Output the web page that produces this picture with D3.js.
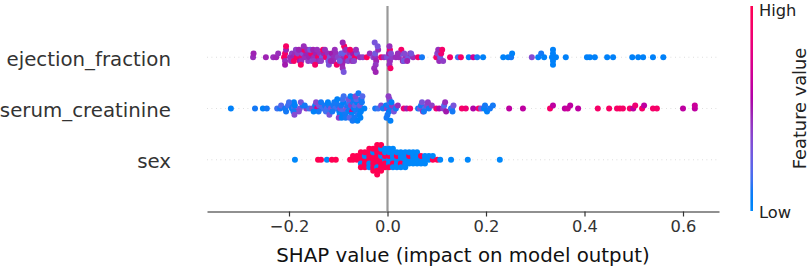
<!DOCTYPE html>
<html><head><meta charset="utf-8">
<script src="https://cdn.jsdelivr.net/npm/d3@7"></script>
<style>
body{margin:0;background:#fff}
svg{display:block}
text{font-family:"DejaVu Sans",sans-serif}
</style>
</head><body>
<svg id="chart" width="810" height="266"></svg>
<script>
// ---------- DATA ----------
const features = ["sex", "serum_creatinine", "ejection_fraction"]; // bottom -> top
const xTicks = [-0.2, 0.0, 0.2, 0.4, 0.6];
const xLabel = "SHAP value (impact on model output)";
const colorLabel = "Feature value";
const colorTickLabels = ["Low", "High"];

// ejection_fraction: SHAP values and normalized feature values (0 = low, 1 = high)
const efShap = [
 -0.273,-0.272,-0.247,-0.232,-0.226,-0.222,-0.210,-0.208,-0.208,-0.206,
 -0.208,-0.206,-0.198,-0.194,-0.192,-0.188,-0.184,-0.182,-0.178,-0.174,
 -0.172,-0.168,-0.165,-0.161,-0.159,-0.155,-0.153,-0.149,-0.145,-0.141,
 -0.137,-0.133,-0.129,-0.125,-0.121,-0.117,-0.113,-0.109,-0.105,-0.101,
 -0.094,-0.090,-0.090,-0.089,-0.086,-0.082,-0.078,-0.074,-0.070,-0.066,
 -0.062,-0.056,-0.050,-0.042,-0.036,-0.029,-0.025,-0.025,-0.023,-0.019,
 -0.013,-0.007,-0.001,0.003,0.005,0.005,0.009,0.017,0.023,0.027,
 0.031,0.036,0.042,0.046,0.052,0.062,0.070,0.099,0.101,0.105,
 0.107,0.109,0.113,0.127,0.143,0.149,0.165,0.174,0.182,0.194,
 0.235,0.245,0.251,0.253,0.293,0.306,0.312,0.318,0.334,0.336,
 0.336,0.336,0.336,0.342,0.362,0.405,0.411,0.421,0.446,0.458,
 0.497,0.509,0.519,0.539,0.560,
 -0.175,-0.170,-0.150,-0.140,-0.120,-0.110,-0.092,-0.088,-0.080,-0.072,
 -0.024,-0.020,0.004,0.028,0.034,
 -0.196,-0.190,-0.186,-0.180,-0.176,-0.170,-0.163,-0.157,-0.151,-0.147,
 -0.143,-0.135,-0.131,-0.127,-0.119,-0.115,-0.107,-0.103,-0.097,-0.091,
 -0.091,-0.089,-0.084,-0.076,-0.068,-0.064,-0.027,-0.026,-0.024,0.004,
 0.006,0.007,0.021,0.033,0.040,0.048,0.103,0.111];
const efValue = [
 .45,.48,.48,.45,.48,.45,.95,.90,.45,.48,
 .50,.92,.45,.40,.48,.45,.95,.40,.50,.88,
 .32,.45,.48,.40,.48,.90,.38,.45,.48,.92,
 .45,.28,.48,.88,.45,.32,.50,.45,.45,.38,
 .28,.45,.25,.48,.40,.90,.45,.32,.50,.92,
 .28,.45,.40,.95,.45,.38,.45,.28,.48,.45,
 .88,.45,.32,.48,.45,.88,.40,.45,.45,.28,
 .48,.45,.28,.45,.45,.90,.10,.90,.38,.45,
 .28,.85,.40,.90,.15,.90,.05,.65,.10,.05,
 .05,.05,.10,.05,.35,.05,.10,.05,.05,.05,
 .05,.05,.05,.05,.05,.05,.05,.05,.05,.05,
 .05,.05,.05,.05,.05,
 .45,.92,.40,.45,.30,.45,.48,.92,.35,.45,
 .42,.30,.45,.90,.35,
 .45,.92,.40,.48,.92,.45,.45,.30,.48,.90,
 .45,.40,.92,.45,.32,.48,.45,.90,.28,.45,
 .48,.30,.45,.92,.38,.45,.45,.30,.48,.45,
 .90,.35,.45,.28,.48,.30,.45,.90];

// serum_creatinine
const scShap = [
 -0.318,-0.269,-0.253,-0.245,-0.224,-0.218,-0.216,-0.208,-0.202,-0.194,
 -0.192,-0.190,-0.188,-0.188,-0.178,-0.172,-0.165,-0.159,-0.153,-0.147,
 -0.143,-0.139,-0.133,-0.127,-0.123,-0.119,-0.117,-0.115,-0.110,-0.106,
 -0.100,-0.098,-0.096,-0.094,-0.092,-0.090,-0.088,-0.084,-0.082,-0.080,
 -0.078,-0.076,-0.074,-0.072,-0.070,-0.068,-0.066,-0.064,-0.062,-0.060,
 -0.058,-0.056,-0.054,-0.052,-0.047,-0.025,-0.019,-0.013,-0.009,-0.003,
 -0.001,0.001,0.003,0.005,0.007,0.009,0.013,0.017,0.021,0.033,
 0.039,0.046,0.062,0.066,0.068,0.072,0.076,0.080,0.084,0.090,
 0.099,0.105,0.113,0.115,0.119,0.129,0.131,0.134,0.151,0.159,
 0.174,0.185,0.190,0.196,0.198,0.202,0.208,0.214,0.247,0.275,
 0.330,0.336,0.360,0.366,0.371,0.387,0.427,0.450,0.466,0.472,
 0.478,0.492,0.499,0.503,0.517,0.521,0.539,0.547,0.600,0.624,
 0.624,
 -0.104,-0.097,-0.091,-0.086,-0.079,-0.073,-0.069,-0.063,-0.057,-0.053,
 0.000,0.004,0.008,-0.180,-0.140,
 -0.191,-0.190,-0.189,-0.206,-0.200,-0.176,-0.168,-0.150,-0.145,-0.135,
 -0.125,-0.121,-0.118,-0.112,-0.108,-0.102,-0.099,-0.093,-0.089,-0.085,
 -0.077,-0.075,-0.071,-0.067,-0.065,-0.061,-0.059,-0.055,-0.051,-0.002,
 0.002,0.006,0.070,0.074,0.082,0.117,0.132];
const scValue = [
 .05,.10,.05,.10,.15,.10,.20,.10,.15,.05,
 .10,.15,.05,.40,.30,.10,.40,.15,.35,.10,
 .75,.30,.15,.10,.20,.10,.05,.30,.10,.15,
 .10,.05,.35,.10,.20,.05,.10,.30,.10,.05,
 .15,.10,.40,.75,.10,.05,.20,.10,.05,.15,
 .10,.30,.05,.10,.05,.10,.15,.35,.10,.05,
 .40,.10,.05,.15,.10,.40,.30,.10,.45,.85,
 .50,.90,.10,.30,.10,.45,.20,.35,.10,.40,
 .85,.55,.40,.20,.50,.10,.15,.30,.90,.85,
 .55,.90,.30,.05,.10,.05,.10,.10,.60,.60,
 .90,.60,.60,.65,.60,.60,.90,.92,.90,.95,
 .90,.90,.60,.85,.90,.60,.90,.90,.60,.60,
 .65,
 .10,.05,.15,.10,.30,.05,.10,.20,.05,.10,
 .10,.35,.05,.35,.10,
 .10,.05,.35,.10,.15,.30,.10,.05,.35,.10,
 .15,.05,.30,.10,.10,.05,.40,.05,.15,.10,
 .20,.05,.10,.10,.35,.05,.10,.05,.20,.10,
 .40,.05,.30,.10,.40,.45,.10];

// sex (0 = female / low, 1 = male / high)
const sexShap = [
 -0.188,
 -0.141,-0.135,-0.123,-0.113,-0.105,
 -0.076,
 -0.070,-0.070,
 -0.062,-0.062,
 -0.054,-0.054,-0.054,-0.054,-0.054,
 -0.046,-0.046,-0.046,-0.046,-0.046,
 -0.037,-0.037,-0.037,-0.037,-0.037,-0.037,
 -0.029,-0.029,-0.029,-0.029,-0.029,-0.029,-0.029,
 -0.021,-0.021,-0.021,-0.021,-0.021,-0.021,-0.021,-0.021,-0.021,
 -0.013,-0.013,-0.013,-0.013,-0.013,-0.013,-0.013,-0.013,
 -0.005,-0.005,-0.005,-0.005,-0.005,-0.005,
 0.003,0.003,0.003,0.003,0.003,0.003,
 0.011,0.011,0.011,0.011,0.011,0.011,
 0.019,0.019,0.019,0.019,0.019,
 0.027,0.027,0.027,0.027,0.027,
 0.036,0.036,0.036,0.036,0.036,
 0.044,0.044,0.044,0.044,
 0.052,0.052,0.052,0.052,
 0.060,0.060,0.060,0.060,
 0.068,0.068,0.068,
 0.076,0.076,0.076,
 0.084,0.084,
 0.092,0.092,
 0.101,
 0.107,0.129,0.163,0.228];
const sexValue = [
 0,
 1,1,0,1,1,
 1,
 1,1,
 1,1,
 1,1,0,1,1,
 1,0,1,1,1,
 1,1,0,1,0,1,
 1,1,1,0,1,1,1,
 1,1,1,1,0,1,1,1,1,
 1,0,1,1,1,0,1,1,
 0,1,1,0,1,0,
 0,1,0,0,1,0,
 0,0,1,0,0,0,
 0,1,0,0,0,
 0,0,1,0,0,
 0,0,0,0,0,
 0,1,0,0,
 0,0,0,0,
 0,0,0,0,
 0,1,0,
 0,0,0,
 0,0,
 1,0,
 1,
 0,0,0,0];

// ---------- CHART ----------
const rows = [
  {name: features[0], shap: sexShap, val: sexValue},
  {name: features[1], shap: scShap, val: scValue},
  {name: features[2], shap: efShap, val: efValue}
];

// SHAP red_blue colormap (LCH interpolation)
function redBlue(t) {
  t = Math.max(0, Math.min(1, t));
  const l = t < 0.5 ? 54 + (40 - 54) * (t / 0.5) : 40 + (54 - 40) * ((t - 0.5) / 0.5);
  const c = 70 + 20 * t;
  const h = 266.93 + (380.32 - 266.93) * t;
  return d3.hcl(h % 360, c, l).rgb().clamp().formatHex();
}

const svg = d3.select("#chart");
const x = d3.scaleLinear().domain([-0.3665, 0.6731]).range([207, 719]);
const y = d3.scaleLinear().domain([-1, 3]).range([211, 6]);

// dotted row guides
svg.append("g").selectAll("line").data(rows).join("line")
  .attr("x1", x.range()[0]).attr("x2", x.range()[1])
  .attr("y1", (d, i) => y(i)).attr("y2", (d, i) => y(i))
  .attr("stroke", "#cccccc").attr("stroke-width", 0.8)
  .attr("stroke-dasharray", "0.8,3.7");

// zero line
svg.append("line")
  .attr("x1", x(0)).attr("x2", x(0))
  .attr("y1", y(3)).attr("y2", y(-1))
  .attr("stroke", "#999999").attr("stroke-width", 2.2);

// beeswarm layout (as in shap summary plot)
function swarm(vals) {
  const N = vals.length, nbins = 100;
  const mn = d3.min(vals), mx = d3.max(vals);
  const quant = vals.map(v => Math.round(nbins * (v - mn) / (mx - mn + 1e-8)));
  const inds = d3.range(N).sort((a, b) => quant[a] - quant[b] || a - b);
  const ys = new Array(N).fill(0);
  let layer = 0, last = -1;
  for (const i of inds) {
    if (quant[i] !== last) layer = 0;
    ys[i] = Math.ceil(layer / 2) * ((layer % 2) * 2 - 1);
    layer++;
    last = quant[i];
  }
  const m = d3.max(ys, v => v + 1);
  return ys.map(v => v * 0.9 * (0.4 / m));
}

rows.forEach((r, i) => {
  const off = swarm(r.shap);
  const pts = r.shap.map((s, k) => ({s, v: r.val[k], o: off[k]}));
  svg.append("g").selectAll("circle").data(pts).join("circle")
    .attr("cx", d => x(d.s))
    .attr("cy", d => y(i + d.o))
    .attr("r", 3)
    .attr("fill", d => redBlue(d.v));
});

// feature labels
svg.append("g").selectAll("text").data(rows).join("text")
  .attr("x", 171).attr("y", (d, i) => y(i) + 8.7)
  .attr("text-anchor", "end")
  .attr("font-size", "19.8px").attr("fill", "#333333")
  .text(d => d.name);

// x axis
const axis = d3.axisBottom(x).tickValues(xTicks).tickSize(5).tickPadding(4)
  .tickSizeOuter(0).tickFormat(d3.format(".1f"));
const gx = svg.append("g").attr("transform", `translate(0,${y(-1) + 0.5})`).call(axis);
gx.select(".domain").attr("stroke", "#222").attr("stroke-width", 1.2);
gx.selectAll(".tick line").attr("stroke", "#333333").attr("stroke-width", 1.2);
gx.selectAll(".tick text").attr("font-size", "16.3px").attr("fill", "#333333")
  .attr("font-family", "DejaVu Sans");

svg.append("text").attr("x", (x.range()[0] + x.range()[1]) / 2).attr("y", 262)
  .attr("text-anchor", "middle").attr("font-size", "19.8px").attr("fill", "#111")
  .text(xLabel);

// colorbar
const defs = svg.append("defs");
const grad = defs.append("linearGradient").attr("id", "cb")
  .attr("x1", 0).attr("y1", 1).attr("x2", 0).attr("y2", 0);
d3.range(0, 1.0001, 0.05).forEach(t => {
  grad.append("stop").attr("offset", t).attr("stop-color", redBlue(t));
});
const cbX = 750.4, cbW = 2.6;
svg.append("rect").attr("x", cbX).attr("y", y(3)).attr("width", cbW)
  .attr("height", y(-1) - y(3)).attr("fill", "url(#cb)");
svg.append("text").attr("x", 759).attr("y", y(-1) + 7.4)
  .attr("font-size", "16.3px").attr("fill", "#222").text(colorTickLabels[0]);
svg.append("text").attr("x", 759).attr("y", 16)
  .attr("font-size", "16.3px").attr("fill", "#222").text(colorTickLabels[1]);
svg.append("text").attr("transform", `translate(805.5,${(y(3) + y(-1)) / 2}) rotate(-90)`)
  .attr("text-anchor", "middle").attr("font-size", "17.8px").attr("fill", "#222")
  .text(colorLabel);
</script>
</body></html>
